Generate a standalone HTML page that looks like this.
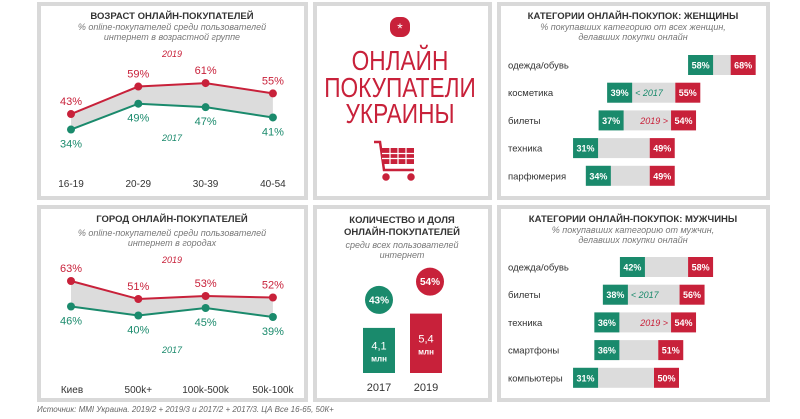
<!DOCTYPE html>
<html><head><meta charset="utf-8">
<style>
html,body{margin:0;padding:0;background:#fff;width:800px;height:419px;overflow:hidden}
svg{display:block;font-family:"Liberation Sans",sans-serif}
.t{font-weight:bold;font-size:9.5px;fill:#333;text-anchor:middle}
.s{font-style:italic;font-size:9px;fill:#777;text-anchor:middle}
</style></head><body>
<svg id="root" width="800" height="419" viewBox="0 0 800 419">
<g fill="#fff" stroke="#d9d9d9" stroke-width="4">
<rect x="39" y="4" width="267" height="194"/>
<rect x="315" y="4" width="175" height="194"/>
<rect x="499" y="4" width="269" height="194"/>
<rect x="39" y="207" width="267" height="193"/>
<rect x="315" y="207" width="175" height="193"/>
<rect x="499" y="207" width="269" height="193"/>
</g>
<text class="t" x="172" y="19">ВОЗРАСТ ОНЛАЙН-ПОКУПАТЕЛЕЙ</text>
<text class="s" x="172" y="30">% online-покупателей среди пользователей</text>
<text class="s" x="172" y="40">интернет в возрастной группе</text>
<g id="age"></g>
<text class="t" x="172" y="222">ГОРОД ОНЛАЙН-ПОКУПАТЕЛЕЙ</text>
<text class="s" x="172" y="236">% online-покупателей среди пользователей</text>
<text class="s" x="172" y="246">интернет в городах</text>
<g id="city"></g>

<g>
<rect x="390" y="17" width="20" height="20" rx="8" fill="#c8213a"/>
<text x="400" y="33" fill="#fff" font-size="14" text-anchor="middle">*</text>
<g fill="#c8213a" font-size="28" text-anchor="middle">
<text x="400" y="70" transform="translate(400 0) scale(0.81 1) translate(-400 0)">ОНЛАЙН</text>
<text x="400" y="97" transform="translate(400 0) scale(0.81 1) translate(-400 0)">ПОКУПАТЕЛИ</text>
<text x="400" y="123" transform="translate(400 0) scale(0.81 1) translate(-400 0)">УКРАИНЫ</text>
</g>
<g stroke="#c8213a" stroke-width="2.5" fill="none">
<path d="M374 142 L380 142 L384 170 L414 170"/>
<rect x="382" y="148" width="32" height="16" fill="#c8213a" stroke="none"/>
<path d="M382 153.5 H414 M382 158.5 H414 M390 148 V164 M398 148 V164 M406 148 V164" stroke="#fff" stroke-width="1.2"/>
<circle cx="386" cy="177" r="2.5" fill="#c8213a"/><circle cx="411" cy="177" r="2.5" fill="#c8213a"/>
</g>
</g>

<text class="t" x="402" y="223">КОЛИЧЕСТВО И ДОЛЯ</text>
<text class="t" x="402" y="235">ОНЛАЙН-ПОКУПАТЕЛЕЙ</text>
<text class="s" x="402" y="248">среди всех пользователей</text>
<text class="s" x="402" y="258">интернет</text>
<g id="count"></g>

<text class="t" x="633" y="19">КАТЕГОРИИ ОНЛАЙН-ПОКУПОК: ЖЕНЩИНЫ</text>
<text class="s" x="633" y="30">% покупавших категорию от всех женщин,</text>
<text class="s" x="633" y="40">делавших покупки онлайн</text>
<g id="women"></g>
<text class="t" x="633" y="222">КАТЕГОРИИ ОНЛАЙН-ПОКУПОК: МУЖЧИНЫ</text>
<text class="s" x="633" y="233">% покупавших категорию от мужчин,</text>
<text class="s" x="633" y="243">делавших покупки онлайн</text>
<g id="men"></g>

<text x="37" y="412" font-size="8" font-style="italic" fill="#666">Источник: MMI Украина. 2019/2 + 2019/3 и 2017/2 + 2017/3. ЦА Все 16-65, 50К+</text>
</svg>
<script>
const RED="#c8213a", GREEN="#1a8a6c", NS="http://www.w3.org/2000/svg";
const ageCats=["16-19","20-29","30-39","40-54"];
const age2019=[43,59,61,55];
const age2017=[34,49,47,41];
const cityCats=["Киев","500k+","100k-500k","50k-100k"];
const city2019=[63,51,53,52];
const city2017=[46,40,45,39];
const countYears=["2017","2019"];
const countMln=[4.1,5.4];
const countMlnLabels=["4,1","5,4"];
const countShare=[43,54];
const womenCats=["одежда/обувь","косметика","билеты","техника","парфюмерия"];
const women2017=[58,39,37,31,34];
const women2019=[68,55,54,49,49];
const menCats=["одежда/обувь","билеты","техника","смартфоны","компьютеры"];
const men2017=[42,38,36,36,31];
const men2019=[58,56,54,51,50];

function mk(parent,tag,attrs,text){const e=document.createElementNS(NS,tag);for(const k in attrs)e.setAttribute(k,attrs[k]);if(text!==undefined)e.textContent=text;parent.appendChild(e);return e;}
const xPos=i=>71+i*67.3;

function lineChart(id,cats,a,b,yA,yB,catY,yrA,yrB,leftCat){
  const g=document.getElementById(id);
  const pa=a.map((v,i)=>[xPos(i),yA(v)]), pb=b.map((v,i)=>[xPos(i),yB(v)]);
  const band=mk(g,'polygon',{points:pa.concat(pb.slice().reverse()).map(p=>p.join(',')).join(' '),fill:'#dcdcdc'});
  
  
  [[pa,RED,a,-9,'series-2019'],[pb,GREEN,b,18,'series-2017']].forEach(([pts,c,vals,dy,nm])=>{
    const l=mk(g,'polyline',{points:pts.map(p=>p.join(',')).join(' '),fill:'none',stroke:c,'stroke-width':2});
    
    
    pts.forEach((p,i)=>{
      const d=mk(g,'circle',{cx:p[0],cy:p[1],r:4,fill:c});
      
      
      const t=mk(g,'text',{x:p[0],y:p[1]+dy,fill:c,'font-size':11,'text-anchor':'middle'},vals[i]+'%');
      
      
    });
  });
  cats.forEach((c,i)=>{
    const t=mk(g,'text',{x:(i===0&&leftCat)?leftCat:xPos(i),y:catY,fill:'#333','font-size':10,'text-anchor':'middle'},c);
    
    
  });
  const y1=mk(g,'text',{x:yrA[0],y:yrA[1],fill:RED,'font-size':9,'font-style':'italic','text-anchor':'middle'},'2019');
  
  
  const y2=mk(g,'text',{x:yrB[0],y:yrB[1],fill:GREEN,'font-size':9,'font-style':'italic','text-anchor':'middle'},'2017');
  
  
}
lineChart('age',ageCats,age2019,age2017,v=>188-1.72*v,v=>188-1.72*v,187,[172,57],[172,141],null);
lineChart('city',cityCats,city2019,city2017,v=>375.5-1.5*v,v=>375.5-1.5*v,393,[172,263],[172,353],72);

function barChart(id,cats,a,b,rowY){
  const g=document.getElementById(id);
  const xs=v=>441+4.26*v, W=25, H=20;
  cats.forEach((c,i)=>{
    const cy=rowY+i*27.7;
    const lab=mk(g,'text',{x:508,y:cy+3.5,fill:'#333','font-size':9.5},c);
    
    
    const x1=xs(a[i]), x2=xs(b[i]);
    const gr=mk(g,'rect',{x:x1,y:cy-H/2,width:x2-x1,height:H,fill:'#dcdcdc'});
    
    
    [[x1,GREEN,a[i],'bar-2017'],[x2,RED,b[i],'bar-2019']].forEach(([x,col,v,nm])=>{
      const r=mk(g,'rect',{x:x,y:cy-H/2,width:W,height:H,fill:col});
      
      
      const t=mk(g,'text',{x:x+W/2,y:cy+3.5,fill:'#fff','font-size':9,'font-weight':'bold','text-anchor':'middle'},v+'%');
      
      
    });
    if(i===1){const t=mk(g,'text',{x:x1+W+3,y:cy+3.5,fill:GREEN,'font-size':9,'font-style':'italic'},'< 2017');
      
      }
    if(i===2){const t=mk(g,'text',{x:x2-3,y:cy+3.5,fill:RED,'font-size':9,'font-style':'italic','text-anchor':'end'},'2019 >');
      
      }
  });
}
barChart('women',womenCats,women2017,women2019,65);
barChart('men',menCats,men2017,men2019,267);

(function(){
  const g=document.getElementById('count');
  const cols=[GREEN,RED], xc=[379,426], base=373, k=11;
  countMln.forEach((v,i)=>{
    const h=v*k, top=base-h;
    const r=mk(g,'rect',{x:xc[i]-16,y:top,width:32,height:h,fill:cols[i]});
    
    
    const t=mk(g,'text',{x:xc[i],y:top+h/2-1,fill:'#fff','font-size':11,'text-anchor':'middle'},countMlnLabels[i]);
    
    
    const t2=mk(g,'text',{x:xc[i],y:top+h/2+11,fill:'#fff','font-size':8,'font-weight':'bold','text-anchor':'middle'},'млн');
    
    
    const cyc=top-28-(countShare[i]-countShare[0])*0.36;
    const c=mk(g,'circle',{cx:xc[i]+(i?4:0),cy:cyc,r:14,fill:cols[i]});
    
    
    const ct=mk(g,'text',{x:xc[i]+(i?4:0),y:cyc+3.5,fill:'#fff','font-size':10,'font-weight':'bold','text-anchor':'middle'},countShare[i]+'%');
    
    
    const yl=mk(g,'text',{x:xc[i],y:391,fill:'#333','font-size':11,'text-anchor':'middle'},countYears[i]);
    
    
  });
})();
</script>
</body></html>
